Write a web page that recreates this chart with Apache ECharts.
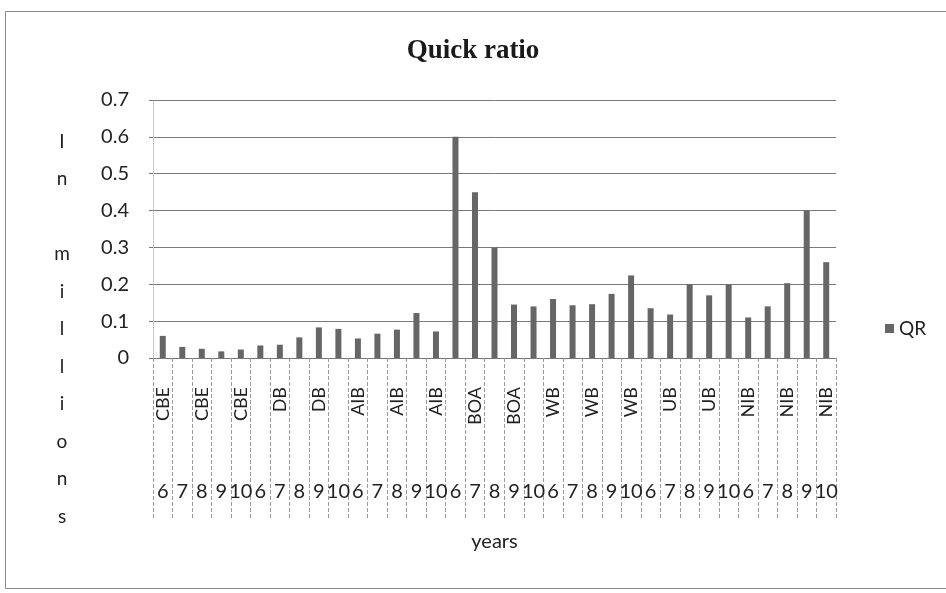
<!DOCTYPE html>
<html>
<head>
<meta charset="utf-8">
<script src="https://cdn.jsdelivr.net/npm/echarts@6/dist/echarts.min.js"></script>
<style>
  html, body { margin: 0; padding: 0; background: #ffffff; }
  #chart { width: 946px; height: 593px; }
</style>
</head>
<body>
<div id="chart"></div>
<script>
// ---- data ----
var banks = ['CBE', 'DB', 'AIB', 'BOA', 'WB', 'UB', 'NIB'];
var years = ['6', '7', '8', '9', '10'];
var qrCBE = [0.06, 0.03, 0.025, 0.018, 0.023];
var qrDB  = [0.034, 0.036, 0.056, 0.083, 0.079];
var qrAIB = [0.053, 0.066, 0.077, 0.122, 0.072];
var qrBOA = [0.60, 0.45, 0.30, 0.145, 0.14];
var qrWB  = [0.16, 0.143, 0.146, 0.174, 0.224];
var qrUB  = [0.135, 0.118, 0.2, 0.17, 0.2];
var qrNIB = [0.11, 0.14, 0.203, 0.40, 0.26];
var yTicks = [0, 0.1, 0.2, 0.3, 0.4, 0.5, 0.6, 0.7];
var yTitle = 'I\nn\n\nm\ni\nl\nl\ni\no\nn\ns';

var seriesByBank = [qrCBE, qrDB, qrAIB, qrBOA, qrWB, qrUB, qrNIB];
var bankCats = [], yearCats = [], qr = [];
banks.forEach(function (b, i) {
  years.forEach(function (y, j) {
    bankCats.push(b);
    yearCats.push(y);
    qr.push(seriesByBank[i][j]);
  });
});

var chart = echarts.init(document.getElementById('chart'), null, { renderer: 'canvas' });
var sans = 'Lato';
chart.setOption({
  backgroundColor: '#ffffff',
  animation: false,
  title: {
    text: 'Quick ratio',
    left: 'center',
    top: 33,
    textStyle: { fontFamily: 'Liberation Serif', fontWeight: 'bold', fontSize: 27, color: '#1a1a1a' }
  },
  legend: {
    data: ['QR'],
    orient: 'vertical',
    left: 880,
    top: 314,
    icon: 'rect',
    itemWidth: 9,
    itemHeight: 9,
    itemGap: 6,
    textStyle: { fontFamily: sans, fontSize: 19, color: '#222' }
  },
  graphic: [{
    type: 'rect',
    silent: true,
    shape: { x: 5.5, y: 11.5, width: 960, height: 577 },
    style: { fill: 'none', stroke: '#8a8a8a', lineWidth: 1 }
  }, {
    type: 'text',
    silent: true,
    x: 62,
    y: 123,
    style: {
      text: yTitle,
      fontFamily: sans,
      fontSize: 19,
      lineHeight: 37.5,
      fill: '#222',
      align: 'center',
      verticalAlign: 'top'
    }
  }],
  grid: { left: 153, right: 110, top: 100, bottom: 235, containLabel: false, outerBoundsMode: 'none' },
  xAxis: [{
    type: 'category',
    data: bankCats,
    position: 'bottom',
    axisLine: { show: true, lineStyle: { color: '#777', width: 1 } },
    axisTick: { show: true, interval: 0, length: 162, lineStyle: { color: '#9a9a9a', type: 'dashed', width: 1 } },
    axisLabel: { interval: 1, rotate: 90, margin: 29, fontFamily: sans, fontSize: 18, color: '#222' },
    splitLine: { show: false }
  }, {
    type: 'category',
    data: yearCats,
    position: 'bottom',
    offset: 120,
    axisLine: { show: false },
    axisTick: { show: false },
    axisLabel: { interval: 0, margin: 4, fontFamily: sans, fontSize: 20, color: '#222' },
    name: 'years',
    nameLocation: 'middle',
    nameGap: 54,
    nameTextStyle: { fontFamily: sans, fontSize: 20, color: '#222' }
  }],
  yAxis: {
    type: 'value',
    min: yTicks[0],
    max: yTicks[yTicks.length - 1],
    interval: 0.1,
    axisLine: { show: true, lineStyle: { color: '#bbb', type: 'dotted' } },
    axisTick: { show: true, length: 4, lineStyle: { color: '#777' } },
    axisLabel: { margin: 24, fontFamily: sans, fontSize: 20, color: '#222',
      formatter: function (v) { return String(Math.round(v * 10) / 10); } },
    splitLine: { show: true, lineStyle: { color: '#7a7a7a', width: 1 } }
  },
  series: [{
    name: 'QR',
    type: 'bar',
    xAxisIndex: 0,
    data: qr,
    barWidth: 6,
    itemStyle: { color: '#666666' }
  }]
});
</script>
</body>
</html>
